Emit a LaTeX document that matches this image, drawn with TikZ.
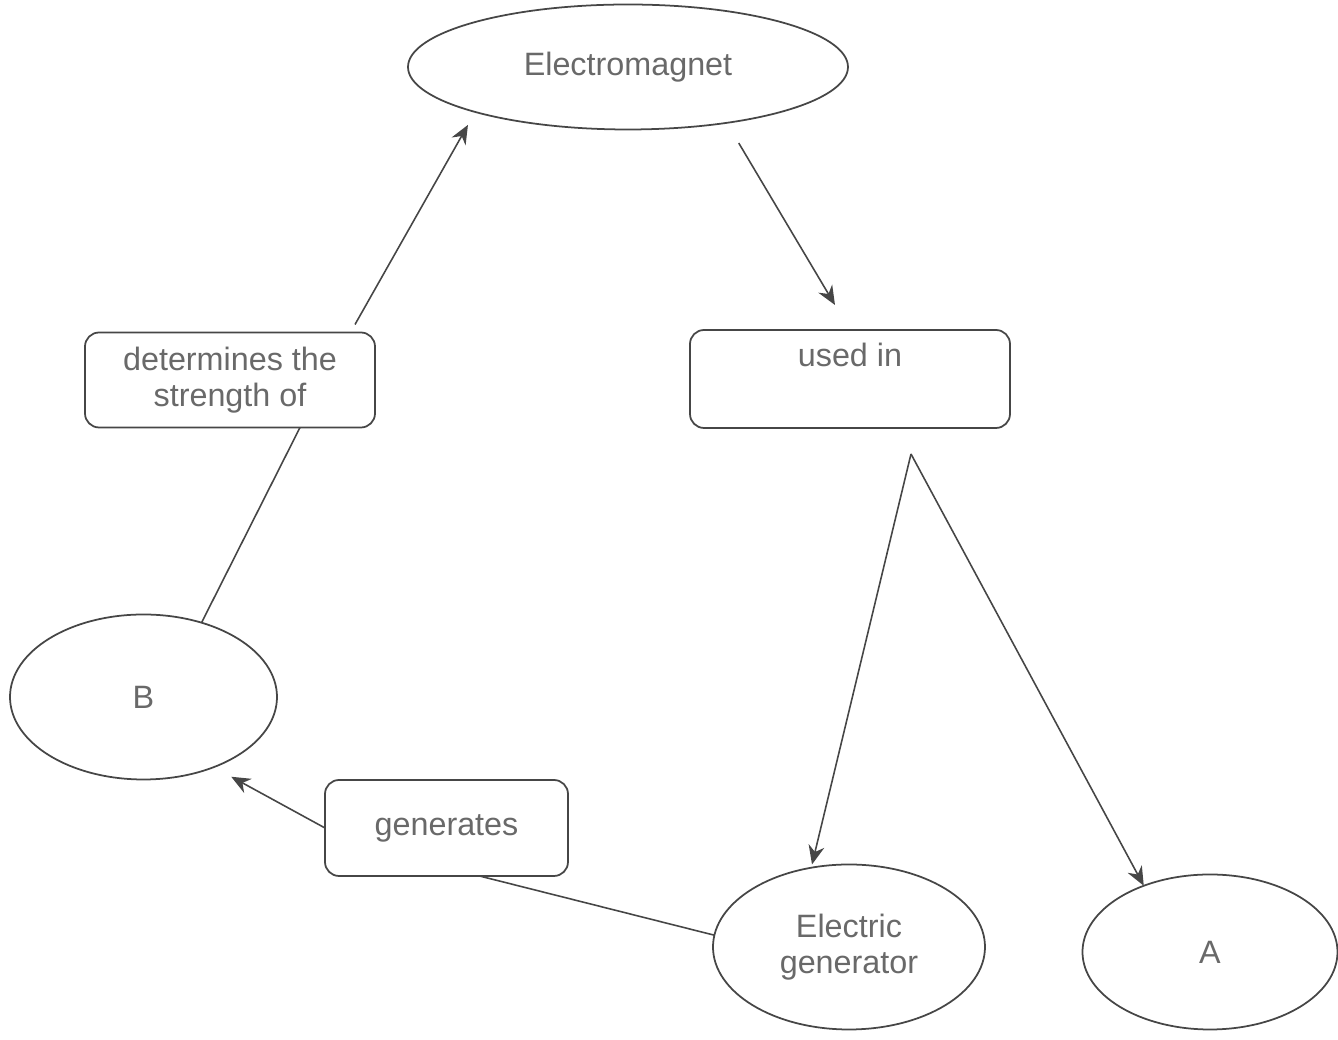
\documentclass[tikz,border=0pt]{standalone}
\usepackage{fontspec}
\setmainfont{Liberation Sans}
\definecolor{inkGray}{RGB}{70, 70, 70}
\definecolor{textGray}{RGB}{105, 105, 105}
\usetikzlibrary{shapes,arrows.meta,positioning,calc}

\begin{document}
\begin{tikzpicture}[
        concept/.style={ellipse,draw=inkGray,line width=0.5pt,outer sep=0pt,inner sep=0pt,
                        text=textGray,font=\fontsize{9.2}{10.4}\selectfont,align=center},
        linkbox/.style={rectangle,rounded corners=4pt,draw=inkGray,line width=0.5pt,outer sep=0pt,
                        inner sep=0pt,text=textGray,font=\fontsize{9.2}{10.4}\selectfont,align=center},
        link/.style={draw=inkGray,line width=0.45pt},
        arrowlink/.style={link,-{Stealth[length=1.9mm,width=1.6mm]}}
    ]
        \useasboundingbox (0,0) rectangle (13.38,-10.40);
        \node[concept,minimum width=4.4cm,minimum height=1.25cm] (magnet) at (6.28,-0.67) {Electromagnet};
        \node[linkbox,minimum width=2.9cm,minimum height=0.95cm] (determines) at (2.30,-3.80) {determines the\\strength of};
        \node[linkbox,minimum width=3.2cm,minimum height=0.98cm] (usedin) at (8.50,-3.79) {used in\\\strut};
        \node[concept,minimum width=2.67cm,minimum height=1.65cm] (B) at (1.435,-6.97) {B};
        \node[linkbox,minimum width=2.43cm,minimum height=0.96cm] (generates) at (4.465,-8.28) {generates};
        \node[concept,minimum width=2.72cm,minimum height=1.65cm] (generator) at (8.49,-9.47) {Electric\\generator};
        \node[concept,minimum width=2.55cm,minimum height=1.55cm] (A) at (12.10,-9.52) {A};
        \coordinate (fork) at (9.11,-4.54);

        \draw[arrowlink] ([xshift=-2mm,yshift=0.8mm]determines.north east) -- ([yshift=-1.5mm]magnet.195);
        \draw[link] (B.52) -- ([xshift=7mm]determines.south);
        \draw[arrowlink] ([yshift=-2.2mm]magnet.-26) -- ([xshift=-1.5mm,yshift=2.5mm]usedin.north);
        \draw[arrowlink] (fork) -- ([xshift=-3.7mm]generator.north);
        \draw[arrowlink] (fork) -- (A.135);
        \draw[link] (generator.175) -- ([xshift=3.3mm]generates.south);
        \draw[arrowlink,shorten >=2mm] (generates.west) -- (B.-45);
    \end{tikzpicture}
\end{document}
